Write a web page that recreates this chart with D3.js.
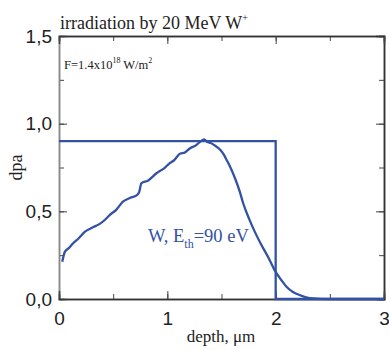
<!DOCTYPE html>
<html>
<head>
<meta charset="utf-8">
<script src="https://d3js.org/d3.v7.min.js"></script>
<style>
  body { margin: 0; background: #fff; }
  .tick text { font-family: "Liberation Sans", Arial, sans-serif; font-size: 19px; fill: #222; }
  .serif { font-family: "Liberation Serif", "Times New Roman", serif; }
</style>
</head>
<body>
<script>
// step profile (uniform dpa up to 2 um)
var stepDepth = [0, 2, 2, 3];
var stepDpa   = [0.9, 0.9, 0, 0];

// calculated damage profile for W, Eth = 90 eV
var curveDepth = [0.03, 0.055, 0.09, 0.13, 0.18, 0.24, 0.30, 0.38, 0.43, 0.47, 0.53, 0.59, 0.65, 0.72, 0.74, 0.76, 0.82, 0.90, 0.93, 0.97, 1.02, 1.06, 1.12, 1.16, 1.21, 1.26, 1.30, 1.34, 1.37, 1.40, 1.44, 1.49, 1.52, 1.55, 1.59, 1.63, 1.67, 1.70, 1.76, 1.81, 1.86, 1.93, 1.99, 2.05, 2.10, 2.16, 2.22, 2.28, 2.35, 2.5, 3.0];
var curveDpa   = [0.213, 0.27, 0.29, 0.318, 0.345, 0.384, 0.405, 0.43, 0.455, 0.48, 0.51, 0.555, 0.575, 0.593, 0.61, 0.66, 0.675, 0.717, 0.73, 0.745, 0.774, 0.79, 0.83, 0.835, 0.86, 0.875, 0.895, 0.91, 0.895, 0.89, 0.875, 0.85, 0.825, 0.79, 0.74, 0.68, 0.61, 0.546, 0.45, 0.38, 0.318, 0.24, 0.165, 0.11, 0.07, 0.04, 0.023, 0.01, 0.003, 0, 0];

var xTicks = [0, 1, 2, 3];
var yTicks = [0, 0.5, 1.0, 1.5];

var width = 389, height = 350;
var margin = {left: 59, right: 5, top: 36, bottom: 51};
var blue = "#3452a4";

var svg = d3.select("body").append("svg")
    .attr("width", width)
    .attr("height", height);

var x = d3.scaleLinear().domain([0, 3]).range([margin.left, width - margin.right]);
var y = d3.scaleLinear().domain([0, 1.5]).range([height - margin.bottom, margin.top]);

var fmt = function(d) { return d3.format(".1f")(d).replace(".", ","); };

// axes: major ticks with labels, minor ticks in between, all inward
function axisGroup(axis, tr, col) {
  var g = svg.append("g").attr("transform", tr).call(axis);
  g.selectAll(".domain").attr("stroke", col || "#333").attr("stroke-width", 1.5);
  g.selectAll(".tick line").attr("stroke", "#444");
  return g;
}
var xMinor = d3.range(0, 3.01, 0.5);
var yMinor = d3.range(0, 1.51, 0.25);

axisGroup(d3.axisLeft(y).tickValues(yMinor).tickSize(-5).tickFormat(""), "translate(" + x(0) + ",0)", "#888");
axisGroup(d3.axisLeft(y).tickValues(yTicks).tickSize(-8).tickPadding(14).tickFormat(fmt), "translate(" + x(0) + ",0)", "#888")
  .selectAll(".tick text").attr("x", -7);
axisGroup(d3.axisRight(y).tickValues(yMinor).tickSize(-5).tickFormat(""), "translate(" + x(3) + ",0)");
axisGroup(d3.axisRight(y).tickValues(yTicks).tickSize(-8).tickFormat(""), "translate(" + x(3) + ",0)");

axisGroup(d3.axisBottom(x).tickValues(xMinor).tickSize(-5).tickFormat(""), "translate(0," + y(0) + ")");
axisGroup(d3.axisBottom(x).tickValues(xTicks).tickSize(-8).tickPadding(13).tickFormat(d3.format("d")), "translate(0," + y(0) + ")");
axisGroup(d3.axisTop(x).tickValues(xMinor).tickSize(-5).tickFormat(""), "translate(0," + y(1.5) + ")");
axisGroup(d3.axisTop(x).tickValues(xTicks).tickSize(-8).tickFormat(""), "translate(0," + y(1.5) + ")");

// lines
var line = d3.line().x(function(d) { return x(d[0]); }).y(function(d) { return y(d[1]); });

svg.append("path")
    .datum(d3.zip(stepDepth, stepDpa))
    .attr("d", line)
    .attr("fill", "none")
    .attr("stroke", blue)
    .attr("stroke-width", 2.3);

svg.append("path")
    .datum(d3.zip(curveDepth, curveDpa))
    .attr("d", line.curve(d3.curveMonotoneX))
    .attr("fill", "none")
    .attr("stroke", blue)
    .attr("stroke-width", 2.3);

// texts
var title = svg.append("text").attr("class", "serif")
    .attr("x", 60).attr("y", 29)
    .attr("font-size", 18).attr("fill", "#222")
    .text("irradiation by 20 MeV W");
title.append("tspan").attr("font-size", 10).attr("dy", -8).text("+");

var flu = svg.append("text").attr("class", "serif")
    .attr("x", 64).attr("y", 69)
    .attr("font-size", 12.5).attr("fill", "#222")
    .text("F=1.4x10");
flu.append("tspan").attr("font-size", 8).attr("dy", -6).text("18");
flu.append("tspan").attr("dy", 6).text(" W/m");
flu.append("tspan").attr("font-size", 8).attr("dy", -6).text("2");

var lab = svg.append("text").attr("class", "serif")
    .attr("x", 148).attr("y", 242)
    .attr("font-size", 18.5).attr("fill", blue)
    .text("W, E");
lab.append("tspan").attr("font-size", 12).attr("dy", 6).text("th");
lab.append("tspan").attr("dy", -6).text("=90 eV");

svg.append("text").attr("class", "serif")
    .attr("x", 221).attr("y", 342)
    .attr("text-anchor", "middle")
    .attr("font-size", 17).attr("fill", "#222")
    .text("depth, \u03bcm");

svg.append("text").attr("class", "serif")
    .attr("transform", "translate(22," + y(0.75) + ") rotate(-90)")
    .attr("text-anchor", "middle")
    .attr("font-size", 18).attr("fill", "#222")
    .text("dpa");
</script>
</body>
</html>
